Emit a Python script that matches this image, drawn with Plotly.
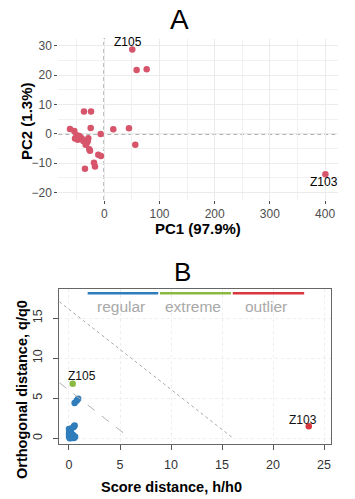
import plotly.graph_objects as go

W, H = 355, 499

# ---------------- Panel A data: PCA scores ----------------
pca_names = ["Z105", "s2", "s3", "s4", "s5", "s6", "s7", "s8", "s9", "s10",
             "s11", "s12", "s13", "s14", "s15", "s16", "s17", "s18", "s19", "s20",
             "s21", "s22", "s23", "s24", "s25", "s26", "s27", "s28", "s29", "s30", "Z103"]
pc1 = [50.7, 58.6, 76.8, -36.8, -24.0, -62.1, -54.3, -45.3, -53.0, -48.2,
       -41.0, -38.0, -33.7, -31.9, -29.0, -27.2, -25.9, -24.6, -10.9, -6.0,
       -18.7, -16.8, -35.0, -6.5, 16.3, 44.7, 56.2, -44.0, -30.0, -50.0, 400.6]
pc2 = [28.7, 21.7, 22.0, 7.6, 7.6, 1.7, 1.0, -0.7, -1.6, -2.0,
       -1.5, -2.4, -3.7, -3.2, -1.5, -5.2, -5.7, 2.0, -7.1, -7.5,
       -9.8, -11.1, -11.9, 0.0, 1.6, 1.9, -3.7, -1.2, -2.5, -0.5, -13.7]
pca_x_ticks = [0, 100, 200, 300, 400]
pca_y_ticks = [-20, -10, 0, 10, 20, 30]

# ---------------- Panel B data: distance plot ----------------
sd_regular = [0.05, 0.10, 0.15, 0.30, 0.45, 0.50, 0.35, 0.05, 0.00, 0.05,
              0.10, 0.00, 0.15, 0.20, 0.10, 0.25, 0.40, 0.20, 0.55, 0.45,
              0.50, 0.30, 0.60, 0.15, 0.00, 0.08, 0.55, 0.75, 0.90]
od_regular = [0.10, 0.20, 0.05, 0.10, 0.15, 0.05, 0.30, 0.40, 0.60, 0.80,
              1.00, 1.15, 1.20, 0.90, 0.70, 0.50, 0.40, 0.15, 1.60, 1.40,
              1.50, 0.05, 0.20, 0.55, 0.30, 0.00, 4.40, 4.70, 4.95]
sd_extreme = [0.36]
od_extreme = [6.8]
sd_outlier = [23.5]
od_outlier = [1.5]
crit_extreme = 6.0     # x + y boundary (dashed)
crit_outlier = 16.1    # x + y boundary (dotted)
dist_x_ticks = [0, 5, 10, 15, 20, 25]
dist_y_ticks = [0, 5, 10, 15]
legend_names = ["regular", "extreme", "outlier"]
legend_colors = ["#2f7dbb", "#8bb841", "#d9373f"]
legend_x = [(1.83, 8.75), (8.92, 15.88), (16.05, 23.05)]

COL_A = "#d7556b"
FONT = "Liberation Sans, Arial, sans-serif"

xa_rng = [-83.3, 422.5]
ya_rng = [-22.5, 32.46]
xb_rng = [-0.95, 25.65]
yb_rng = [-0.71, 18.6]


def px(v):
    return v / W


def py(v):
    return 1 - v / H


fig = go.Figure()

# Panel A points
fig.add_trace(go.Scatter(x=pc1, y=pc2, mode="markers", xaxis="x", yaxis="y",
                         marker=dict(color=COL_A, size=6.5), hoverinfo="text",
                         text=pca_names, showlegend=False))

# Panel B points
fig.add_trace(go.Scatter(x=sd_regular, y=od_regular, mode="markers", xaxis="x2", yaxis="y2",
                         marker=dict(color=legend_colors[0], size=6.5), showlegend=False))
fig.add_trace(go.Scatter(x=sd_extreme, y=od_extreme, mode="markers", xaxis="x2", yaxis="y2",
                         marker=dict(color=legend_colors[1], size=6.5), showlegend=False))
fig.add_trace(go.Scatter(x=sd_outlier, y=od_outlier, mode="markers", xaxis="x2", yaxis="y2",
                         marker=dict(color=legend_colors[2], size=6.5), showlegend=False))

shapes = []
# Panel A reference lines
shapes.append(dict(type="line", xref="x", yref="y domain", x0=0, x1=0, y0=0, y1=1,
                   line=dict(color="#6a6a6a", width=1.4, dash="4px,3px"), layer="below"))
shapes.append(dict(type="line", xref="x domain", yref="y", x0=0, x1=1, y0=0, y1=0,
                   line=dict(color="#6a6a6a", width=1.4, dash="4px,3px"), layer="below"))
# Panel B critical lines
shapes.append(dict(type="line", xref="x2", yref="y2", x0=xb_rng[0], y0=crit_extreme - xb_rng[0],
                   x1=crit_extreme, y1=0, line=dict(color="#b0b0b0", width=1, dash="dash")))
shapes.append(dict(type="line", xref="x2", yref="y2", x0=xb_rng[0], y0=crit_outlier - xb_rng[0],
                   x1=crit_outlier, y1=0, line=dict(color="#a8a8a8", width=1, dash="dot")))
# Panel B legend bars
for (x0, x1), c in zip(legend_x, legend_colors):
    shapes.append(dict(type="line", xref="x2", yref="y2", x0=x0, x1=x1, y0=18.1, y1=18.1,
                       line=dict(color=c, width=2.5)))

annotations = []
# Panel titles
annotations.append(dict(text="A", x=px(179), y=py(19), xref="paper", yref="paper",
                        showarrow=False, font=dict(family=FONT, size=28, color="black"),
                        xanchor="center", yanchor="middle"))
annotations.append(dict(text="B", x=px(182), y=py(272), xref="paper", yref="paper",
                        showarrow=False, font=dict(family=FONT, size=26, color="black"),
                        xanchor="center", yanchor="middle"))
# Axis titles
annotations.append(dict(text="<b>PC1 (97.9%)</b>", x=px(198), y=py(228), xref="paper", yref="paper",
                        showarrow=False, font=dict(family=FONT, size=15, color="black"),
                        xanchor="center", yanchor="middle"))
annotations.append(dict(text="<b>PC2 (1.3%)</b>", x=px(26), y=py(121), xref="paper", yref="paper",
                        showarrow=False, textangle=-90, font=dict(family=FONT, size=15, color="black"),
                        xanchor="center", yanchor="middle"))
annotations.append(dict(text="<b>Score distance, h/h0</b>", x=px(171), y=py(487), xref="paper", yref="paper",
                        showarrow=False, font=dict(family=FONT, size=14.5, color="black"),
                        xanchor="center", yanchor="middle"))
annotations.append(dict(text="<b>Orthogonal distance, q/q0</b>", x=px(22), y=py(390), xref="paper", yref="paper",
                        showarrow=False, textangle=-90, font=dict(family=FONT, size=14.5, color="black"),
                        xanchor="center", yanchor="middle"))
# Point labels panel A
annotations.append(dict(text="Z105", x=pc1[0], y=pc2[0], xref="x", yref="y", showarrow=False,
                        xshift=-4, yshift=8, font=dict(family=FONT, size=12, color="black")))
annotations.append(dict(text="Z103", x=pc1[-1], y=pc2[-1], xref="x", yref="y", showarrow=False,
                        xshift=-1, yshift=-8, font=dict(family=FONT, size=12, color="black")))
# Point labels panel B
annotations.append(dict(text="Z105", x=sd_extreme[0], y=od_extreme[0], xref="x2", yref="y2", showarrow=False,
                        xshift=9, yshift=8, font=dict(family=FONT, size=12, color="#111")))
annotations.append(dict(text="Z103", x=sd_outlier[0], y=od_outlier[0], xref="x2", yref="y2", showarrow=False,
                        xshift=-6, yshift=6, font=dict(family=FONT, size=12, color="#111")))
# Legend labels panel B
for (x0, x1), name in zip(legend_x, legend_names):
    annotations.append(dict(text=name, x=(x0 + x1) / 2 - 0.2, y=16.5, xref="x2", yref="y2", showarrow=False,
                            font=dict(family=FONT, size=15.5, color="#a8a8a8")))

tickfontA = dict(family=FONT, size=12, color="#4d4d4d")
tickfontB = dict(family=FONT, size=12.5, color="#333333")

fig.update_layout(
    width=W, height=H,
    margin=dict(l=0, r=0, t=0, b=0),
    paper_bgcolor="white", plot_bgcolor="white",
    showlegend=False,
    shapes=shapes, annotations=annotations,
    xaxis=dict(domain=[px(58.3), px(337.5)], range=xa_rng, anchor="y",
               tickmode="array", tickvals=pca_x_ticks, ticks="outside", ticklen=3,
               tickcolor="#4d4d4d", tickfont=tickfontA, showline=False, zeroline=False,
               showgrid=True, gridcolor="#ebebeb", gridwidth=1.1,
               minor=dict(tickmode="array", tickvals=[-50, 50, 150, 250, 350], showgrid=True,
                          gridcolor="#f1f1f1", gridwidth=0.7)),
    yaxis=dict(domain=[py(200), py(38.5)], range=ya_rng, anchor="x",
               tickmode="array", tickvals=pca_y_ticks, ticks="outside", ticklen=3,
               tickcolor="#4d4d4d", tickfont=tickfontA, showline=False, zeroline=False,
               showgrid=True, gridcolor="#ebebeb", gridwidth=1.1,
               minor=dict(tickmode="array", tickvals=[-15, -5, 5, 15, 25], showgrid=True,
                          gridcolor="#f1f1f1", gridwidth=0.7)),
    xaxis2=dict(domain=[px(59.3), px(330.7)], range=xb_rng, anchor="y2",
                tickmode="array", tickvals=dist_x_ticks, ticks="outside", ticklen=5,
                tickcolor="#555", tickfont=tickfontB, ticklabelstandoff=4,
                showline=True, mirror=True, linecolor="#666", linewidth=1, zeroline=False,
                showgrid=True, gridcolor="#eeeeee", gridwidth=1, griddash="dot"),
    yaxis2=dict(domain=[py(444), py(289.3)], range=yb_rng, anchor="x2",
                tickmode="array", tickvals=dist_y_ticks, ticks="outside", ticklen=5,
                tickcolor="#555", tickfont=tickfontB, tickangle=-90, ticklabelstandoff=6,
                showline=True, mirror=True, linecolor="#666", linewidth=1, zeroline=False,
                showgrid=True, gridcolor="#eeeeee", gridwidth=1, griddash="dot"),
)

fig.write_html("out.html", config={"displayModeBar": False},
               post_script="document.body.style.margin='0px';document.body.style.overflow='hidden';")
